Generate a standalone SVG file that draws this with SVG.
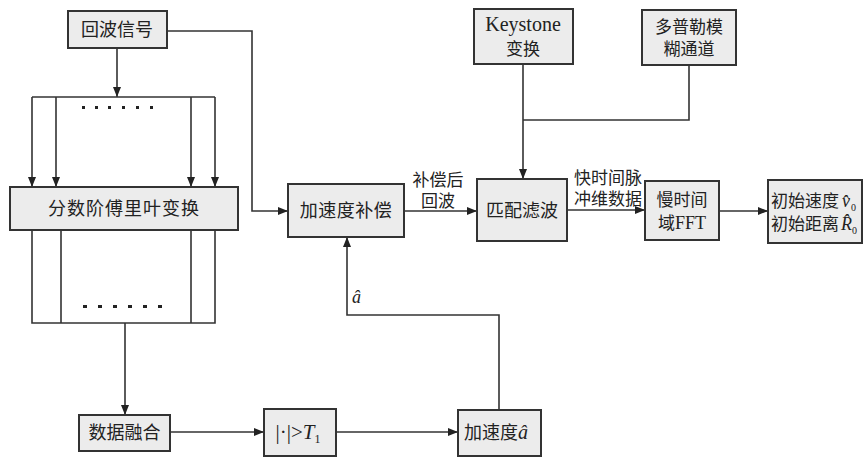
<svg xmlns="http://www.w3.org/2000/svg" width="868" height="457" viewBox="0 0 868 457">
<defs>
<marker id="ah" markerWidth="10" markerHeight="8" refX="10" refY="4" orient="auto" markerUnits="userSpaceOnUse">
<path d="M0,0 L10,4 L0,8 Z" fill="#222"/>
</marker>
<style>
.box{fill:#ececec;stroke:#333;stroke-width:2}
.ln{fill:none;stroke:#333;stroke-width:1.6}
.ar{fill:none;stroke:#333;stroke-width:1.6;marker-end:url(#ah)}
.zh{font-family:"Noto Sans CJK SC","Noto Sans",sans-serif;font-size:17px;fill:#222;text-anchor:middle}
.z2{font-family:"Liberation Sans","Noto Sans CJK SC",sans-serif;font-size:17px;fill:#222;text-anchor:middle}
.zb{font-size:18px}
.se{font-family:"Liberation Serif","DejaVu Serif",serif;fill:#222}
.it{font-family:"Liberation Serif","DejaVu Serif",serif;font-style:italic}
.dot{fill:#222}
</style>
</defs>
<rect width="868" height="457" fill="#fff"/>
<g id="connectors">
<path class="ar" d="M117,48 V97"/>
<path class="ln" d="M32,97 H215"/>
<path class="ar" d="M32,97 V187"/>
<path class="ar" d="M56,97 V187"/>
<path class="ar" d="M191,97 V187"/>
<path class="ar" d="M215,97 V187"/>
<path class="ln" d="M32,230 V323 H215 V230 M61,230 V323 M191,230 V323"/>
<path class="ar" d="M125,323 V415"/>
<path class="ar" d="M167,31 H252 V211 H288"/>
<path class="ar" d="M170,432 H264"/>
<path class="ar" d="M336,432 H458"/>
<path class="ar" d="M499,410 V315 H347 V237"/>
<path class="ar" d="M404,211 H477"/>
<path class="ar" d="M523,65 V179"/>
<path class="ln" d="M689,65 V120 H523"/>
<path class="ar" d="M567,210 H645"/>
<path class="ar" d="M719,211 H768"/>
</g>
<g id="dots-top">
<rect class="dot" x="82" y="106" width="3" height="3"/>
<rect class="dot" x="95" y="106" width="3" height="3"/>
<rect class="dot" x="108" y="106" width="3" height="3"/>
<rect class="dot" x="122" y="106" width="3" height="3"/>
<rect class="dot" x="136" y="106" width="3" height="3"/>
<rect class="dot" x="150" y="106" width="3" height="3"/>
</g>
<g id="dots-bottom">
<rect class="dot" x="83" y="305" width="4" height="3"/>
<rect class="dot" x="98" y="305" width="4" height="3"/>
<rect class="dot" x="113" y="305" width="4" height="3"/>
<rect class="dot" x="128" y="305" width="4" height="3"/>
<rect class="dot" x="143" y="305" width="4" height="3"/>
<rect class="dot" x="158" y="305" width="4" height="3"/>
</g>
<g id="echo">
<rect class="box" x="68" y="11" width="99" height="37"/>
<text class="zh zb" x="117" y="36">回波信号</text>
</g>
<g id="frft">
<rect class="box" x="10" y="187" width="228" height="43"/>
<text class="zh zb" x="124" y="215" letter-spacing="1">分数阶傅里叶变换</text>
</g>
<g id="fusion">
<rect class="box" x="79" y="415" width="91" height="36"/>
<text class="zh zb" x="124.5" y="439">数据融合</text>
</g>
<g id="threshold">
<rect class="box" x="264" y="409" width="72" height="47"/>
<text class="se" x="298" y="439" font-size="21" text-anchor="middle">|·|&gt;<tspan class="it">T</tspan><tspan font-size="12" dy="4">1</tspan></text>
</g>
<g id="accel">
<rect class="box" x="458" y="410" width="83" height="46"/>
<text class="zh zb" x="491" y="439">加速度</text>
<text class="it" x="518" y="439" font-size="20" fill="#222">â</text>
</g>
<g id="comp">
<rect class="box" x="288" y="184" width="116" height="53"/>
<text class="zh zb" x="346" y="217" letter-spacing="0.5">加速度补偿</text>
</g>
<g id="keystone">
<rect class="box" x="474" y="9" width="99" height="55"/>
<text class="se" x="523" y="31" font-size="20" text-anchor="middle">Keystone</text>
<text class="z2" x="523" y="55">变换</text>
</g>
<g id="doppler">
<rect class="box" x="642" y="10" width="94" height="55"/>
<text class="z2" x="689" y="33">多普勒模</text>
<text class="z2" x="689" y="55">糊通道</text>
</g>
<g id="mf">
<rect class="box" x="477" y="179" width="90" height="62"/>
<text class="zh zb" x="522" y="217">匹配滤波</text>
</g>
<g id="fft">
<rect class="box" x="645" y="181" width="74" height="59"/>
<text class="z2" x="682" y="206">慢时间</text>
<text class="z2" x="682" y="229"><tspan>域</tspan><tspan class="se" font-size="18">FFT</tspan></text>
</g>
<g id="result">
<rect class="box" x="768" y="180" width="94" height="63"/>
<text class="z2" x="805" y="207">初始速度</text>
<text class="it" x="842" y="207" font-size="18" fill="#222">v̂</text>
<text class="se" x="851" y="211" font-size="10">0</text>
<text class="z2" x="805" y="230">初始距离</text>
<text class="it" x="841" y="230" font-size="18" fill="#222">R̂</text>
<text class="se" x="852" y="234" font-size="10">0</text>
</g>
<g id="labels">
<text class="z2" x="438" y="186">补偿后</text>
<text class="z2" x="438" y="207">回波</text>
<text class="z2" x="608" y="184">快时间脉</text>
<text class="z2" x="608" y="205">冲维数据</text>
<text class="it" x="352" y="303" font-size="18" fill="#222">â</text>
</g>
</svg>
